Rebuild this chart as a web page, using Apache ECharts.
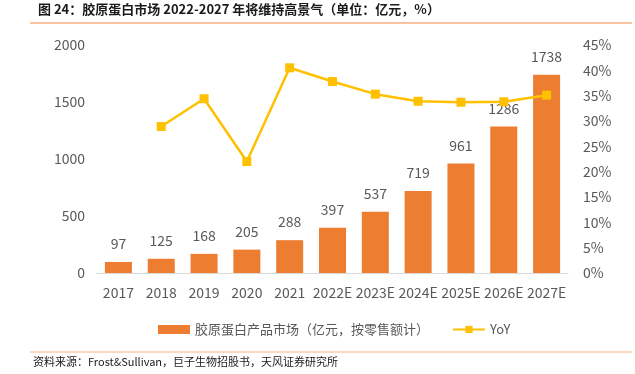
<!DOCTYPE html>
<html><head><meta charset="utf-8">
<script src="https://cdn.jsdelivr.net/npm/echarts@6/dist/echarts.min.js"></script>
<style>html,body{margin:0;padding:0;background:#fff}#c{width:635px;height:374px}</style>
</head><body><div id="c"></div>
<script>
const categories = ['2017','2018','2019','2020','2021','2022E','2023E','2024E','2025E','2026E','2027E'];
const marketValues = [97,125,168,205,288,397,537,719,961,1286,1738];
const yoyValues = [null,28.9,34.4,22.0,40.5,37.8,35.3,33.9,33.7,33.8,35.1];
const leftTicks = [0,500,1000,1500,2000];
const rightTicks = [0,5,10,15,20,25,30,35,40,45];
const barName = '胶原蛋白产品市场（亿元，按零售额计）';
const lineName = 'YoY';
const titleText = '图 24：胶原蛋白市场 2022-2027 年将维持高景气（单位：亿元，%）';
const sourceText = '资料来源：Frost&Sullivan，巨子生物招股书，天风证券研究所';

const font = '"Noto Sans CJK SC","Microsoft YaHei",sans-serif';
const chart = echarts.init(document.getElementById('c'), null, {renderer:'canvas'});
chart.setOption({
  animation:false,
  textStyle:{fontFamily:font},
  graphic:[
    {type:'text',left:38,top:3,style:{text:titleText,font:'bold 13px '+font,fill:'#1a1a1a'}},
    {type:'line',shape:{x1:30,y1:23,x2:632,y2:23},style:{stroke:'#F4B183',lineWidth:1.5}},
    {type:'line',shape:{x1:30,y1:352,x2:632,y2:352},style:{stroke:'#F8CBAD',lineWidth:1.5}},
    {type:'text',left:33,top:356,style:{text:sourceText,font:'11px '+font,fill:'#1a1a1a'}}
  ],
  grid:{left:97,right:67,top:45,bottom:101,containLabel:false},
  legend:{
    bottom:33,left:153,itemGap:23,
    textStyle:{color:'#595959',fontSize:13,fontFamily:font},
    data:[
      {name:barName,icon:'rect',itemStyle:{color:'#ED7D31'}},
      {name:lineName}
    ],
    itemWidth:32,itemHeight:9
  },
  xAxis:{
    type:'category',data:categories,
    axisLine:{show:true,lineStyle:{color:'#D9D9D9',width:1}},
    axisTick:{show:false},
    axisLabel:{color:'#595959',fontSize:14,margin:13,interval:0,hideOverlap:false}
  },
  yAxis:[
    {type:'value',min:leftTicks[0],max:leftTicks[leftTicks.length-1],interval:500,
     splitLine:{show:false},axisLine:{show:false},axisTick:{show:false},
     axisLabel:{color:'#595959',fontSize:14,margin:12,formatter:v=>String(v)}},
    {type:'value',min:rightTicks[0],max:rightTicks[rightTicks.length-1],interval:5,
     splitLine:{show:false},axisLine:{show:false},axisTick:{show:false},
     axisLabel:{color:'#595959',fontSize:14,margin:15,formatter:v=>v+'%'}}
  ],
  series:[
    {name:barName,type:'bar',data:marketValues,barWidth:27,
     itemStyle:{color:'#ED7D31'},
     label:{show:true,position:'top',distance:11,color:'#595959',fontSize:14}},
    {name:lineName,type:'line',yAxisIndex:1,data:yoyValues,
     symbol:'rect',symbolSize:9,
     lineStyle:{color:'#FFC000',width:2.5},
     itemStyle:{color:'#FFC000'},connectNulls:false}
  ]
});
</script></body></html>
